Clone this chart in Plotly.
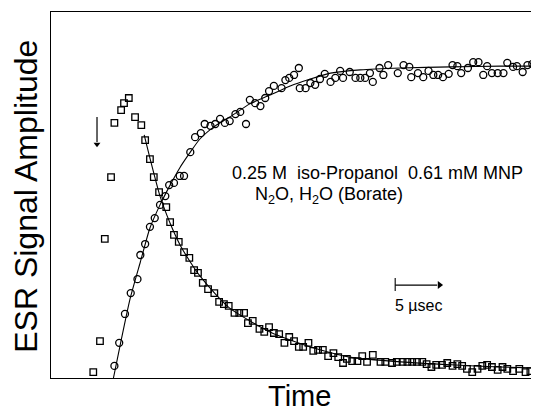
import plotly.graph_objects as go

# Decaying signal (open squares): time in microseconds, amplitude (arb. units)
decay_t = [4.4, 5.1, 5.6, 6.25, 6.6, 7.3, 7.6, 8.1, 8.75, 9.4, 9.8, 10.3, 10.7, 11.25, 12.0,
           12.4, 12.8, 13.3, 13.85, 14.4, 14.9, 15.3, 15.8, 16.35, 17.0, 17.5, 18.0, 18.5, 19.1,
           19.6, 20.1, 20.5, 21.0, 21.7, 22.2, 22.7, 23.2, 23.75, 24.3, 24.8, 25.3, 25.8, 26.25,
           26.8, 27.3, 27.8, 28.3, 28.85, 29.4, 29.9, 30.4, 30.8, 31.35, 31.9, 32.4, 32.9, 33.5,
           34.3, 34.8, 35.5, 36.0, 36.6, 37.1, 37.6, 38.1, 38.65, 39.1, 39.6, 40.1, 40.7, 41.25,
           41.8, 42.3, 42.8, 43.3, 43.85, 44.4, 44.9, 45.4, 45.9, 46.5, 47.0, 47.5, 48.1, 48.75,
           49.4, 49.9, 50.5]
decay_a = [1.6, 10.1, 38.0, 54.9, 69.7, 73.2, 75.1, 76.5, 71.3, 69.1, 65.0, 59.8, 54.9, 50.8, 46.7,
           42.6, 39.1, 37.2, 34.4, 32.8, 29.5, 28.7, 26.0, 24.3, 23.2, 20.8, 20.2, 19.7, 17.8,
           17.8, 17.8, 15.0, 15.6, 13.4, 12.6, 13.9, 12.3, 12.0, 9.6, 11.2, 10.1, 8.5, 8.5,
           9.6, 7.4, 7.7, 7.7, 6.0, 6.8, 5.7, 4.1, 5.2, 4.6, 4.6, 6.0, 4.4, 6.3,
           4.4, 4.4, 4.1, 4.4, 4.4, 4.4, 4.4, 4.4, 4.4, 3.8, 3.0, 3.6, 3.6, 4.1,
           3.3, 3.8, 3.3, 2.5, 1.6, 2.5, 3.3, 3.6, 3.0, 2.2, 3.0, 2.5, 1.9, 2.5,
           1.6, 1.9, 2.7]

# Fitted decay curve
decay_fit_t = [9.7, 10.3, 11.35, 12.4, 13.45, 14.5, 15.5, 17.1, 18.6, 20.7, 22.8, 24.9, 28.0,
               31.1, 36.4, 41.6, 46.8, 50.8]
decay_fit_a = [66.4, 60.1, 49.7, 42.3, 36.3, 31.7, 27.9, 23.0, 19.1, 15.6, 12.6, 10.4, 7.7,
               5.7, 4.4, 3.6, 3.0, 2.7]

# Rising signal (open circles)
rise_t = [6.0, 6.6, 7.1, 7.7, 8.3, 9.0, 9.3, 9.8, 10.3, 10.8, 11.35, 11.9, 12.3, 12.8, 13.4,
          13.85, 14.5, 15.0, 15.6, 16.0, 16.6, 17.1, 17.6, 18.1, 18.6, 19.2, 19.7, 20.3, 20.7,
          21.25, 21.8, 22.3, 22.7, 23.2, 24.0, 24.4, 24.8, 25.3, 25.8, 25.9, 26.5, 27.0, 27.5,
          28.0, 28.5, 29.1, 29.6, 30.1, 30.4, 31.1, 31.7, 32.2, 32.7, 33.2, 33.5, 34.2, 34.6,
          35.1, 36.1, 36.7, 37.3, 37.5, 38.2, 38.75, 39.3, 39.8, 40.3, 40.8, 41.4, 41.8, 42.3,
          42.7, 43.4, 43.95, 44.5, 45.0, 45.4, 45.9, 46.5, 47.1, 47.5, 48.1, 48.5, 49.1, 49.6,
          50.1, 50.6]
rise_a = [-0.3, 3.3, 9.6, 17.5, 23.2, 27.0, 33.6, 36.6, 41.3, 43.7, 47.3, 49.7, 52.7, 53.3, 55.2,
          55.2, 61.7, 65.8, 66.9, 69.4, 68.9, 69.4, 70.8, 69.7, 70.2, 72.1, 72.7, 69.4, 76.0,
          75.1, 74.3, 76.5, 78.4, 79.8, 79.2, 81.4, 82.0, 82.8, 84.7, 79.2, 79.2, 80.6, 80.1,
          81.7, 83.1, 80.9, 82.0, 83.9, 82.0, 83.6, 82.0, 82.0, 82.0, 83.3, 80.9, 84.7, 82.8,
          85.5, 83.3, 85.5, 85.0, 82.2, 83.3, 82.2, 83.9, 82.8, 82.8, 82.2, 83.1, 85.5, 85.2,
          83.3, 84.7, 86.3, 86.3, 82.8, 85.2, 83.3, 83.3, 83.3, 86.1, 85.0, 85.2, 83.6, 85.5,
          85.8, 85.2]

# Fitted rise curve
rise_fit_t = [6.5, 7.2, 8.2, 9.3, 10.3, 11.35, 12.4, 13.4, 14.5, 15.5, 17.1, 18.6, 20.7, 22.8,
              24.9, 27.0, 29.1, 32.2, 36.4, 41.6, 46.8, 50.8]
rise_fit_a = [0.0, 9.0, 21.3, 31.7, 41.0, 47.3, 52.7, 57.4, 61.7, 65.3, 68.9, 71.3, 74.9, 77.3,
              79.8, 81.7, 83.3, 84.2, 84.7, 85.0, 85.2, 85.2]

FONT = "Liberation Sans, Arial, Helvetica, sans-serif"

fig = go.Figure()
fig.add_trace(go.Scatter(x=rise_fit_t, y=rise_fit_a, mode="lines",
                         line=dict(color="black", width=1.1, shape="spline", smoothing=0.6),
                         hoverinfo="skip", cliponaxis=False))
fig.add_trace(go.Scatter(x=decay_fit_t, y=decay_fit_a, mode="lines",
                         line=dict(color="black", width=1.1, shape="spline", smoothing=0.6),
                         hoverinfo="skip", cliponaxis=False))
fig.add_trace(go.Scatter(x=decay_t, y=decay_a, mode="markers",
                         marker=dict(symbol="square-open", size=6.5, color="black",
                                     line=dict(width=1.3, color="black")),
                         cliponaxis=False))
fig.add_trace(go.Scatter(x=rise_t, y=rise_a, mode="markers",
                         marker=dict(symbol="circle-open", size=7, color="black",
                                     line=dict(width=1.3, color="black")),
                         cliponaxis=False))

# Arrow heads (decorations: the vertical marker arrow and the 5 usec scale bar)
fig.add_trace(go.Scatter(x=[4.79], y=[63.9], mode="markers", hoverinfo="skip",
                         marker=dict(symbol="triangle-down", size=6, color="black")))
fig.add_trace(go.Scatter(x=[40.45], y=[25.4], mode="markers", hoverinfo="skip",
                         marker=dict(symbol="triangle-right", size=7, color="black")))

annotations = [
    dict(x=18.65, y=56.1, xref="x", yref="y", xanchor="left", yanchor="middle", showarrow=False,
         text="0.25 M\u00a0 iso-Propanol\u00a0 0.61 mM MNP", font=dict(size=18, color="black", family=FONT)),
    dict(x=21.0, y=49.9, xref="x", yref="y", xanchor="left", yanchor="middle", showarrow=False,
         text="N<sub>2</sub>O, H<sub>2</sub>O (Borate)", font=dict(size=18, color="black", family=FONT)),
    dict(x=38.25, y=19.7, xref="x", yref="y", xanchor="center", yanchor="middle", showarrow=False,
         text="5 \u00b5sec", font=dict(size=16, color="black", family=FONT)),
    dict(x=-0.0506, y=0.496, xref="paper", yref="paper", xanchor="center", yanchor="middle",
         showarrow=False, textangle=-90, text="ESR Signal Amplitude",
         font=dict(size=32, color="black", family=FONT)),
    dict(x=0.51, y=-0.048, xref="paper", yref="paper", xanchor="center", yanchor="middle",
         showarrow=False, text="Time", font=dict(size=29, color="black", family=FONT)),
]

shapes = [
    # scale bar: end tick and shaft
    dict(type="line", xref="x", yref="y", x0=35.83, x1=35.83, y0=23.8, y1=27.3,
         line=dict(color="black", width=1.1)),
    dict(type="line", xref="x", yref="y", x0=35.83, x1=40.2, y0=25.4, y1=25.4,
         line=dict(color="black", width=1.2)),
    # vertical arrow shaft
    dict(type="line", xref="x", yref="y", x0=4.79, x1=4.79, y0=71.3, y1=64.5,
         line=dict(color="black", width=1.2)),
]

# The page body has an 8 px default margin, so the figure is 8 px smaller on each axis
fig.update_layout(
    width=531, height=404,
    margin=dict(l=43, r=0, t=4, b=34),
    paper_bgcolor="white", plot_bgcolor="white",
    showlegend=False,
    annotations=annotations, shapes=shapes,
    xaxis=dict(range=[0, 50.8], showgrid=False, zeroline=False, showticklabels=False, ticks="",
               showline=True, linecolor="black", linewidth=1.4, mirror=True),
    yaxis=dict(range=[0, 100], showgrid=False, zeroline=False, showticklabels=False, ticks="",
               showline=True, linecolor="black", linewidth=1.4, mirror=False),
)

fig.write_html("out.html")
